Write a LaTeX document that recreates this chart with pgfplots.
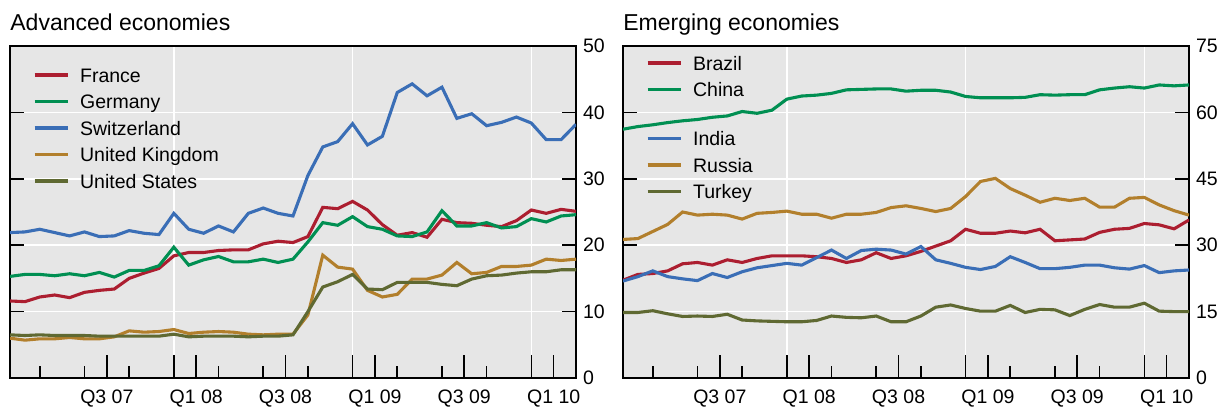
\documentclass[border=0pt]{standalone}
\usepackage{fontspec}
\setmainfont{Liberation Sans}
\usepackage{pgfplots}
\usepackage{pgfplotstable}
\pgfplotsset{compat=1.18}

\definecolor{cRed}{RGB}{172,30,48}
\definecolor{cGreen}{RGB}{0,143,82}
\definecolor{cBlue}{RGB}{58,110,182}
\definecolor{cGold}{RGB}{178,127,44}
\definecolor{cOlive}{RGB}{95,105,50}
\definecolor{bgGray}{RGB}{230,230,230}

% month index: 0 = Feb 2007 ... 38 = Apr 2010
\pgfplotstableread{
i  France Germany Swiss UK   US
0  11.6   15.3    21.9  6.0  6.5
1  11.5   15.6    22.0  5.7  6.4
2  12.2   15.6    22.4  5.9  6.5
3  12.5   15.4    21.9  5.9  6.4
4  12.1   15.7    21.4  6.1  6.4
5  12.9   15.4    22.0  5.9  6.4
6  13.2   15.9    21.3  5.9  6.3
7  13.4   15.2    21.4  6.2  6.3
8  15.0   16.2    22.2  7.1  6.3
9  15.8   16.2    21.8  6.9  6.3
10 16.5   16.9    21.6  7.0  6.3
11 18.4   19.7    24.8  7.3  6.6
12 18.9   17.0    22.4  6.7  6.2
13 18.9   17.8    21.8  6.9  6.3
14 19.2   18.3    22.9  7.0  6.3
15 19.3   17.5    22.0  6.9  6.3
16 19.3   17.5    24.8  6.6  6.2
17 20.2   17.9    25.6  6.5  6.3
18 20.6   17.4    24.8  6.6  6.3
19 20.4   17.9    24.4  6.6  6.5
20 21.3   20.5    30.5  9.5  10.0
21 25.7   23.4    34.8  18.5 13.7
22 25.5   23.0    35.6  16.7 14.5
23 26.6   24.3    38.3  16.4 15.6
24 25.3   22.8    35.1  13.2 13.4
25 23.1   22.4    36.4  12.2 13.3
26 21.5   21.4    43.0  12.6 14.4
27 21.9   21.3    44.3  14.9 14.4
28 21.2   22.0    42.5  14.9 14.4
29 23.9   25.2    43.8  15.5 14.1
30 23.4   22.9    39.1  17.4 13.9
31 23.3   22.9    39.8  15.7 14.9
32 23.0   23.4    38.0  15.9 15.4
33 22.8   22.6    38.5  16.8 15.5
34 23.7   22.8    39.3  16.8 15.8
35 25.3   24.0    38.4  17.0 16.0
36 24.8   23.5    35.9  17.9 16.0
37 25.4   24.4    35.9  17.7 16.3
38 25.1   24.6    38.2  17.9 16.3
}\advanced

\pgfplotstableread{
i  Brazil China India Russia Turkey
0  22.1   56.2  21.9  31.3   14.8
1  23.4   56.8  22.9  31.5   14.8
2  23.6   57.2  24.2  33.1   15.2
3  24.2   57.7  22.9  34.7   14.5
4  25.8   58.1  22.4  37.5   13.9
5  26.1   58.4  22.0  36.8   14.0
6  25.5   58.9  23.6  37.0   13.9
7  26.7   59.2  22.7  36.8   14.4
8  26.1   60.2  24.0  35.9   13.1
9  27.0   59.8  24.9  37.2   12.9
10 27.6   60.5  25.4  37.4   12.8
11 27.6   63.0  25.9  37.7   12.7
12 27.6   63.7  25.5  37.0   12.7
13 27.4   63.9  27.2  37.0   13.0
14 27.0   64.3  28.9  36.1   14.0
15 26.1   65.1  27.0  37.0   13.7
16 26.7   65.2  28.8  37.0   13.6
17 28.3   65.3  29.1  37.4   14.0
18 27.0   65.3  28.9  38.5   12.7
19 27.6   64.8  28.0  38.9   12.7
20 28.6   65.0  29.7  38.3   14.0
21 29.8   65.0  26.7  37.6   16.0
22 31.0   64.6  25.9  38.3   16.5
23 33.6   63.6  25.0  41.0   15.7
24 32.7   63.3  24.5  44.4   15.1
25 32.7   63.3  25.2  45.1   15.1
26 33.2   63.3  27.4  42.8   16.4
27 32.8   63.4  26.1  41.3   14.8
28 33.6   64.0  24.7  39.7   15.5
29 31.0   63.9  24.7  40.6   15.4
30 31.2   64.0  25.0  40.1   14.1
31 31.4   64.0  25.5  40.6   15.5
32 32.9   65.1  25.5  38.6   16.6
33 33.6   65.5  24.9  38.6   16.0
34 33.8   65.8  24.6  40.6   16.0
35 34.9   65.5  25.4  40.8   16.9
36 34.6   66.2  23.8  39.1   15.1
37 33.7   66.0  24.2  37.8   15.0
38 35.7   66.2  24.4  36.8   15.0
}\emerging

\pgfplotsset{
  panel/.style={
    scale only axis, width=283pt, height=166pt,
    xmin=0, xmax=38, ymin=0,
    axis background/.style={fill=bgGray},
    axis line style={line width=1.2pt},
    tick align=inside,
    xtick pos=bottom,
    ytick pos=both, yticklabel pos=right,
    xtick={11,23,35}, xticklabels={},
    minor xtick={2,5,8,14,17,20,26,29,32},
    xmajorgrids, ymajorgrids,
    grid style={white, line width=0.8pt},
    minor tick length=6pt,
    major tick length=7pt,
    xtick style={/pgfplots/major tick length=11.5pt},
    tick style={black, line width=0.8pt},
    extra x ticks={6.5,12.5,18.5,24.5,30.5,36.5},
    extra x tick labels={Q3 07,Q1 08,Q3 08,Q1 09,Q3 09,Q1 10},
    extra x tick style={xmajorgrids=false, major tick length=0pt},
    /pgf/number format/assume math mode=true,
    xticklabel style={yshift=-2.5pt},
    ticklabel style={font=\fontsize{9.75}{11}\selectfont},
    title style={at={(0,1)}, anchor=base west, yshift=2pt, inner sep=0pt,
      font=\fontsize{11.5}{13}\selectfont},
    every axis plot/.append style={line width=1.55pt},
    legend cell align=left,
    legend image code/.code={\draw[##1] (0pt,3.5pt) -- (16.5pt,3.5pt);},
    legend style={draw=none, fill=none, inner sep=0pt, outer sep=0pt,
      row sep=3.25pt, column sep=5.5pt,
      font=\fontsize{9.75}{11}\selectfont,
      cells={anchor=base west},
      nodes={inner sep=0pt, text height=7.2pt, text depth=2.8pt}},
  }
}

\begin{document}
\begin{tikzpicture}
\useasboundingbox (0pt,0pt) rectangle (611.5pt,204pt);

\begin{axis}[panel, at={(5pt,15pt)}, anchor=south west,
    ymax=50, ytick={0,10,...,50},
    title={Advanced economies},
    legend style={at={(axis description cs:0,1)}, anchor=north west,
      xshift=11.5pt, yshift=-10.8pt}]
\addplot[cRed]   table[x=i, y=France]  {\advanced};
\addlegendentry{France}
\addplot[cGreen] table[x=i, y=Germany] {\advanced};
\addlegendentry{Germany}
\addplot[cBlue]  table[x=i, y=Swiss]   {\advanced};
\addlegendentry{Switzerland}
\addplot[cGold]  table[x=i, y=UK]      {\advanced};
\addlegendentry{United Kingdom}
\addplot[cOlive] table[x=i, y=US]      {\advanced};
\addlegendentry{United States}
\end{axis}

\begin{axis}[panel, at={(311.5pt,15pt)}, anchor=south west,
    ymax=75, ytick={0,15,...,75},
    title={Emerging economies},
    legend style={at={(axis description cs:0,1)}, anchor=north west,
      xshift=11.5pt, yshift=-4.8pt}]
\addplot[cRed]   table[x=i, y=Brazil] {\emerging};
\addlegendentry{Brazil}
\addplot[cGreen] table[x=i, y=China]  {\emerging};
\addlegendentry[text depth=14.05pt]{China}
\addplot[cBlue]  table[x=i, y=India]  {\emerging};
\addlegendentry{India}
\addplot[cGold]  table[x=i, y=Russia] {\emerging};
\addlegendentry{Russia}
\addplot[cOlive] table[x=i, y=Turkey] {\emerging};
\addlegendentry{Turkey}
\end{axis}
\end{tikzpicture}
\end{document}
